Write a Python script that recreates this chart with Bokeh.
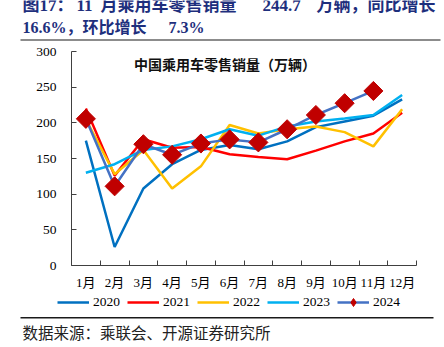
import numpy as np
from bokeh.plotting import figure
from bokeh.models import (Range1d, FixedTicker, Label, Legend, LegendItem,
                          ColumnDataSource)
from bokeh.layouts import column
from bokeh.embed import file_html
from bokeh.resources import INLINE

# ---------------- data ----------------
months = list(range(1, 13))
month_labels = [f"{m}月" for m in months]
sales_2020 = [175, 26, 108, 142, 162, 169, 163, 174, 194, 202, 210, 233]
sales_2021 = [220, 126, 177, 165, 166, 156, 152, 149, 161, 174, 185, 214]
sales_2022 = [205, 128, 162, 108, 139, 197, 185, 191, 195, 187, 167, 219]
sales_2023 = [130, 142, 162, 167, 177, 191, 182, 195, 202, 206, 211, 239]
sales_2024 = [205.6, 111.0, 170.0, 155.2, 171.0, 176.8, 172.6, 191.0, 211.0, 227.5, 244.7]
y_ticks = [0, 50, 100, 150, 200, 250, 300]
years = ["2020", "2021", "2022", "2023", "2024"]

title_line1 = ["图17：", "11", "月乘用车零售销量", "244.7", "万辆，同比增长"]
title_line2 = ["16.6%，环比增长", "7.3%"]
chart_title = "中国乘用车零售销量（万辆）"
source_text = "数据来源：乘联会、开源证券研究所"

# ---------------- styles ----------------
W = 444
TITLE_COLOR = "#1E2F7D"
CJK = "Liberation Serif, Noto Sans CJK SC"
SERIF = "Liberation Serif"
colors = {"2020": "#0070C0", "2021": "#FF0000", "2022": "#FFC000",
          "2023": "#00B0F0", "2024": "#4472C4"}
MARKER = "#C00000"

series = {"2020": sales_2020, "2021": sales_2021, "2022": sales_2022,
          "2023": sales_2023, "2024": sales_2024}


def blank(height):
    """Helper figure whose frame covers the whole canvas; data coords = pixels."""
    f = figure(width=W, height=height, x_range=Range1d(0, W),
               y_range=Range1d(height, 0), min_border=0,
               toolbar_location=None, output_backend="svg",
               x_axis_location=None, y_axis_location=None,
               outline_line_color=None)
    f.grid.visible = False
    f.frame_align = False
    return f

# ---------------- top: report title (canvas y 0..42) ----------------
top = blank(42)
for t, cx in zip(title_line1, [22, 76, 100, 262, 316]):
    top.add_layout(Label(x=cx, y=5, text=t, text_font=CJK, text_font_size="17px",
                         text_font_style="bold", text_color=TITLE_COLOR,
                         text_baseline="middle"))
for t, cx in zip(title_line2, [22, 168]):
    top.add_layout(Label(x=cx, y=27, text=t, text_font=CJK, text_font_size="16px",
                         text_font_style="bold", text_color=TITLE_COLOR,
                         text_baseline="middle"))
top.segment(x0=[20], y0=[39.5], x1=[440], y1=[39.5], line_color="#8c8c8c", line_width=2)

# ---------------- chart (canvas y 42..292) ----------------
p = figure(width=W, height=250, x_range=Range1d(0.5, 12.5), y_range=Range1d(0, 300),
           min_border_left=71, min_border_right=28, min_border_top=9,
           min_border_bottom=25, toolbar_location=None, output_backend="svg",
           outline_line_color=None)
p.grid.visible = False
p.frame_align = False

for yr in ["2020", "2021", "2022", "2023"]:
    p.line(months, series[yr], line_color=colors[yr], line_width=2.5)

m24 = months[:len(sales_2024)]
src24 = ColumnDataSource(dict(x=m24, y=sales_2024))
p.line("x", "y", source=src24, line_color=colors["2024"], line_width=2.5)
p.scatter("x", "y", source=src24, marker="square", angle=np.pi / 4,
          size=13.5, fill_color=MARKER, line_color=MARKER)

p.yaxis.ticker = FixedTicker(ticks=y_ticks)
p.yaxis.major_tick_in = 5
p.yaxis.major_tick_out = 0
p.yaxis.minor_tick_line_color = None
p.yaxis.major_label_standoff = 15
p.yaxis.major_label_text_font = SERIF
p.yaxis.major_label_text_font_size = "13.5px"
p.yaxis.major_label_text_color = "#000000"
p.yaxis.axis_line_color = "#404040"
p.yaxis.major_tick_line_color = "#404040"

p.xaxis.ticker = FixedTicker(ticks=months, minor_ticks=[m - 0.5 for m in months] + [12.5])
p.xaxis.major_label_overrides = {m: lab for m, lab in zip(months, month_labels)}
p.xaxis.major_tick_in = 0
p.xaxis.major_tick_out = 0
p.xaxis.minor_tick_in = 5
p.xaxis.minor_tick_out = 0
p.xaxis.major_label_standoff = 9
p.xaxis.major_label_text_font = CJK
p.xaxis.major_label_text_font_size = "13px"
p.xaxis.major_label_text_color = "#000000"
p.xaxis.axis_line_color = "#404040"
p.xaxis.minor_tick_line_color = "#404040"

p.add_layout(Label(x=224.5 - 71, y=267 - 65, x_units="screen", y_units="screen",
                   text=chart_title, text_font="Noto Sans CJK SC",
                   text_font_size="14px", text_font_style="bold",
                   text_align="center", text_baseline="middle",
                   text_color="#111111"))

# ---------------- legend strip (canvas y 292..312) ----------------
# legend proxies reuse the series data; in this strip's ranges they fall
# outside the visible area, so only the legend swatches are seen
leg = blank(20)
items = []
for yr in years:
    xs = months[:len(series[yr])]
    r = leg.line(x=xs, y=series[yr], line_color=colors[yr], line_width=2.5)
    rs = [r]
    if yr == "2024":
        rs.append(leg.scatter(x=xs, y=series[yr], marker="diamond", size=8,
                              fill_color=MARKER, line_color=MARKER))
    items.append(LegendItem(label=yr, renderers=rs))
legend = Legend(items=items, orientation="horizontal", location=(57, 0),
                glyph_width=32, glyph_height=20, label_height=20,
                label_standoff=4, spacing=7, padding=0, margin=0,
                border_line_color=None, background_fill_alpha=0,
                label_text_font=SERIF, label_text_font_size="13.5px",
                label_text_color="#000000")
leg.add_layout(legend, "center")

# ---------------- footer (canvas y 312..347) ----------------
foot = blank(35)
foot.segment(x0=[20], y0=[5.3], x1=[433], y1=[5.3], line_color="#1a1a1a", line_width=1.5)
foot.add_layout(Label(x=22, y=19, text=source_text, text_font="Noto Sans CJK SC",
                      text_font_size="15.5px", text_color="#222222",
                      text_baseline="middle"))

layout = column(top, p, leg, foot, spacing=0)
open("out.html", "w").write(file_html(layout, INLINE))
